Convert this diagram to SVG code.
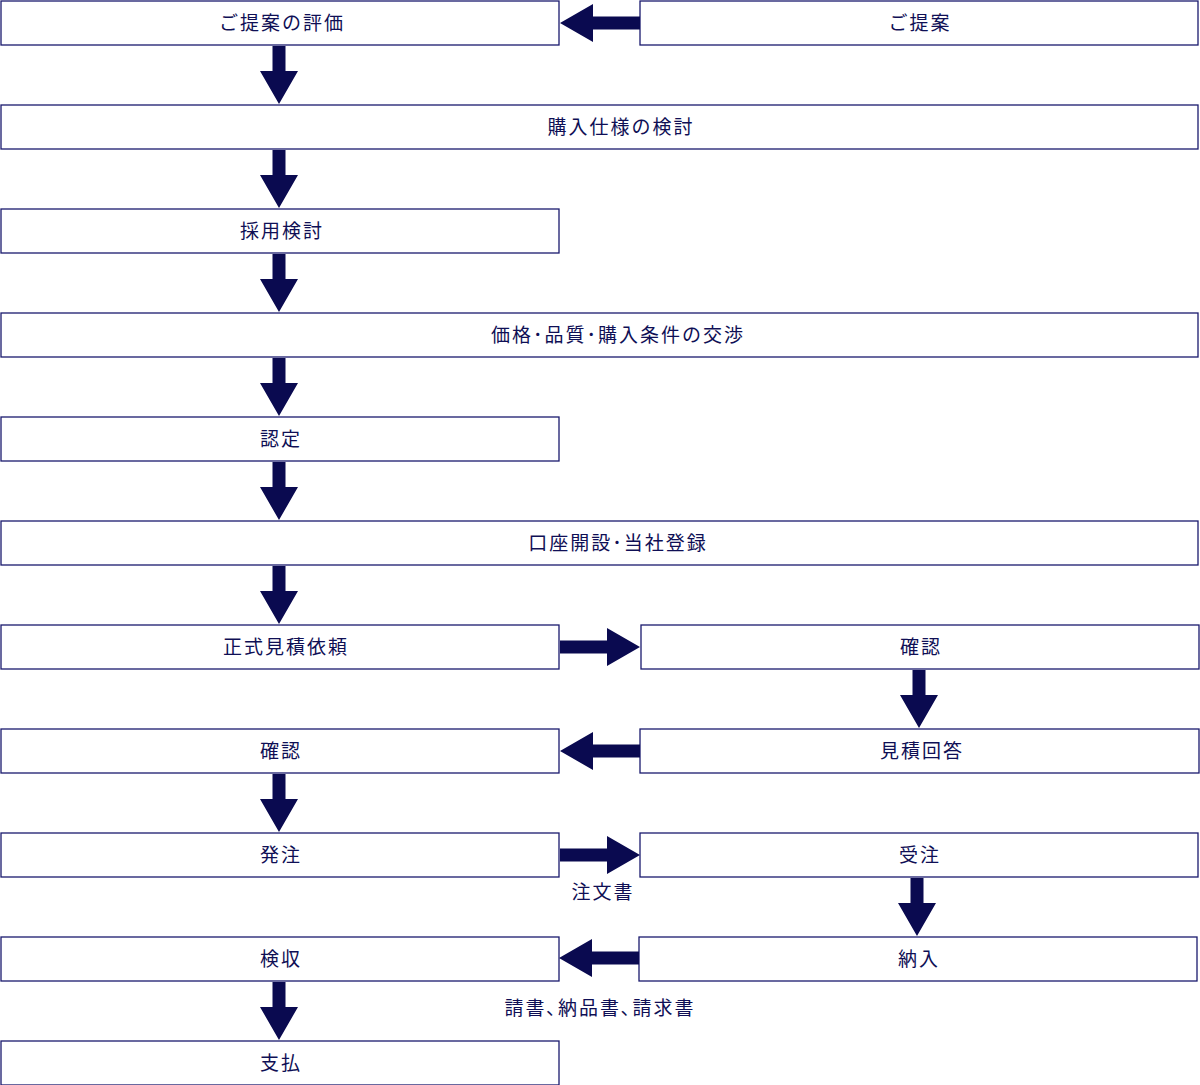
<svg xmlns="http://www.w3.org/2000/svg" width="1200" height="1085" viewBox="0 0 1200 1085">
<style>
rect{fill:#fff;stroke:#1a1a6e;stroke-width:1.3}
text{font-family:"Noto Sans CJK JP","Noto Sans",sans-serif;font-size:19px;fill:#0f0f55;text-anchor:middle;letter-spacing:2px}
.a{fill:#0a0a50}
</style>
<defs>
<path id="d" class="a" d="M-6.5,0H6.5V25H19L0,58L-19,25H-6.5Z"/>
<path id="r" class="a" d="M0,-6.5H47V-19L80,0L47,19V6.5H0Z"/>
<path id="l" class="a" d="M0,-6.5H-47V-19L-80,0L-47,19V6.5H0Z"/>
</defs>
<g id="n1"><rect x="1" y="1" width="558" height="44"/><text x="282" y="30">ご提案の評価</text></g>
<g id="n2"><rect x="640" y="1" width="558" height="44"/><text x="920" y="30">ご提案</text></g>
<g id="n3"><rect x="1" y="105" width="1197" height="44"/><text x="621" y="134">購入仕様の検討</text></g>
<g id="n4"><rect x="1" y="209" width="558" height="44"/><text x="282" y="238">採用検討</text></g>
<g id="n5"><rect x="1" y="313" width="1197" height="44"/><text x="618" y="342">価格･品質･購入条件の交渉</text></g>
<g id="n6"><rect x="1" y="417" width="558" height="44"/><text x="281" y="446">認定</text></g>
<g id="n7"><rect x="1" y="521" width="1197" height="44"/><text x="618" y="550">口座開設･当社登録</text></g>
<g id="n8"><rect x="1" y="625" width="558" height="44"/><text x="286" y="654">正式見積依頼</text></g>
<g id="n9"><rect x="641" y="625" width="558" height="44"/><text x="921" y="654">確認</text></g>
<g id="n10"><rect x="1" y="729" width="558" height="44"/><text x="281" y="758">確認</text></g>
<g id="n11"><rect x="640" y="729" width="559" height="44"/><text x="922" y="758">見積回答</text></g>
<g id="n12"><rect x="1" y="833" width="558" height="44"/><text x="281" y="862">発注</text></g>
<g id="n13"><rect x="640" y="833" width="558" height="44"/><text x="920" y="862">受注</text></g>
<g id="n14"><rect x="1" y="937" width="558" height="44"/><text x="281" y="966">検収</text></g>
<g id="n15"><rect x="639" y="937" width="558" height="44"/><text x="919" y="966">納入</text></g>
<g id="n16"><rect x="1" y="1041" width="558" height="44"/><text x="281" y="1070">支払</text></g>
<g id="connectors">
<use href="#l" x="640" y="23"/>
<use href="#d" x="279" y="46"/>
<use href="#d" x="279" y="150"/>
<use href="#d" x="279" y="254"/>
<use href="#d" x="279" y="358"/>
<use href="#d" x="279" y="462"/>
<use href="#d" x="279" y="566"/>
<use href="#r" x="560" y="647"/>
<use href="#d" x="919" y="670"/>
<use href="#l" x="640" y="751"/>
<use href="#d" x="279" y="774"/>
<use href="#r" x="560" y="855"/>
<text x="603" y="899">注文書</text>
<use href="#d" x="917" y="878"/>
<use href="#l" x="639" y="958"/>
<use href="#d" x="279" y="982"/>
<text x="600" y="1015">請書､納品書､請求書</text>
</g>
</svg>
